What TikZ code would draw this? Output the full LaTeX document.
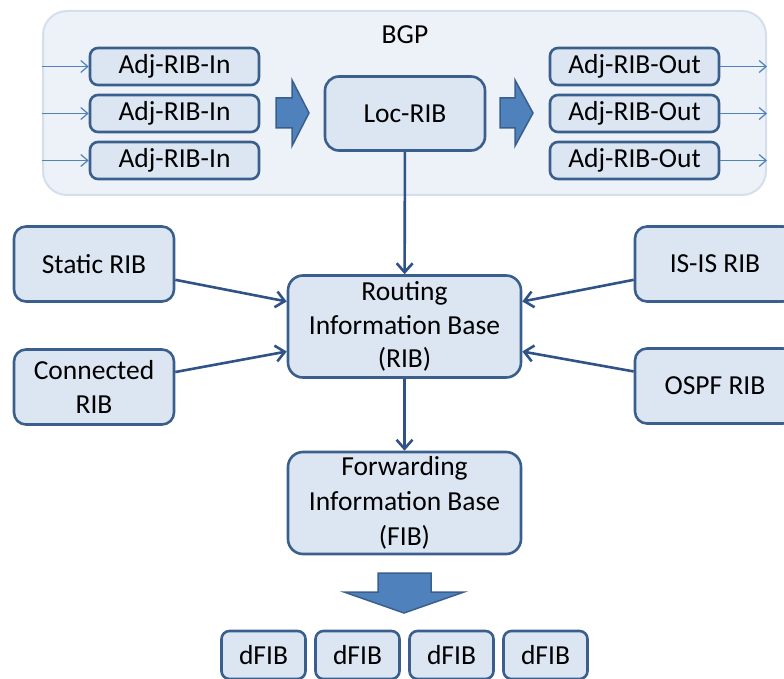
\documentclass[tikz,border=0pt]{standalone}
\usepackage{fontspec}
\setmainfont{Carlito}
\usetikzlibrary{arrows.meta}
\definecolor{boxfill}{HTML}{DCE6F2}
\definecolor{boxline}{HTML}{3B5F8D}
\definecolor{linkcol}{HTML}{2F5386}
\definecolor{arrowfill}{HTML}{4F81BD}
\definecolor{bgpfill}{HTML}{EDF1F8}
\definecolor{bgpline}{HTML}{D5DFEC}
\tikzstyle{block} = [rectangle, draw=boxline, fill=boxfill, line width=2.6pt, rounded corners=8pt, inner sep=0pt, align=center, font=\fontsize{27.5}{33.5}\selectfont]
\tikzstyle{adj} = [block, minimum width=169pt, minimum height=37pt]
\tikzstyle{bigblock} = [block, rounded corners=15pt, minimum width=233pt, minimum height=102pt]
\tikzstyle{side} = [block, rounded corners=12pt, minimum width=160pt, minimum height=75pt]
\tikzstyle{dfib} = [block, minimum width=84pt, minimum height=48pt]
\tikzstyle{bgpbox} = [rectangle, draw=bgpline, fill=bgpfill, line width=2pt, rounded corners=24pt, minimum width=723pt, minimum height=184pt]
\tikzstyle{line} = [draw=linkcol, line width=2.6pt, -{Straight Barb[length=9pt, width=16pt]}]
\tikzstyle{thin} = [draw=arrowfill, line width=1.2pt, -{Straight Barb[length=7pt, width=12pt]}]
\tikzstyle{fat} = [draw=boxline, fill=arrowfill, line width=1.5pt, line join=miter]

\begin{document}
\begin{tikzpicture}[x=1pt, y=-1pt, node distance=47pt]
  \useasboundingbox (0,0) rectangle (784,679);
  % BGP
  \node [bgpbox] (bgp) at (404.5,103) {};
  \node [font=\fontsize{27.5}{33}\selectfont] (bgplabel) at (405,35) {BGP};
  \node [adj]              (in1)  at (174.5,66.5) {Adj-RIB-In};
  \node [adj, below of=in1] (in2) {Adj-RIB-In};
  \node [adj, below of=in2] (in3) {Adj-RIB-In};
  \node [block, rounded corners=14pt, minimum width=160pt, minimum height=74pt] (loc) at (405,113.5) {Loc-RIB};
  \node [adj]              (out1) at (634.5,66.5) {Adj-RIB-Out};
  \node [adj, below of=out1] (out2) {Adj-RIB-Out};
  \node [adj, below of=out2] (out3) {Adj-RIB-Out};
  \foreach \n in {in1,in2,in3}
    \path [thin] (bgp.west |- \n) -- (\n);
  \foreach \n in {out1,out2,out3}
    \path [thin] (\n) -- (bgp.east |- \n);
  \draw [fat] (276,98) -- (292,98) -- (292,80) -- (309,113) -- (292,146) -- (292,128) -- (276,128) -- cycle;
  \draw [fat] (500,98) -- (515,98) -- (515,80) -- (533,113) -- (515,146) -- (515,128) -- (500,128) -- cycle;
  % RIB and FIB
  \node [bigblock] (rib) at (404.5,326.5) {Routing\\Information Base\\(RIB)};
  \node [bigblock, font=\fontsize{27.5}{35}\selectfont] (fib) at (404.5,503) {Forwarding\\Information Base\\(FIB)};
  \node [side] (static) at (94,264)  {Static RIB};
  \node [side] (conn)   at (94,387)  {Connected\\RIB};
  \node [side] (isis)   at (715,264) {IS-IS RIB};
  \node [side] (ospf)   at (715,386) {OSPF RIB};
  \path [line] (loc)    -- (rib);
  \path [line] (rib)    -- (fib);
  \path [line] (static) -- ([yshift=25pt]rib.west);
  \path [line] (conn)   -- ([yshift=-25pt]rib.west);
  \path [line] (isis)   -- ([yshift=25pt]rib.east);
  \path [line] (ospf)   -- ([yshift=-25pt]rib.east);
  % dFIB
  \draw [fat] (378,573) -- (431,573) -- (431,592) -- (464,592) -- (404,613) -- (344,592) -- (378,592) -- cycle;
  \begin{scope}[node distance=94pt]
    \node [dfib]               (d1) at (263.5,655) {dFIB};
    \node [dfib, right of=d1]  (d2) {dFIB};
    \node [dfib, right of=d2]  (d3) {dFIB};
    \node [dfib, right of=d3]  (d4) {dFIB};
  \end{scope}
\end{tikzpicture}
\end{document}
